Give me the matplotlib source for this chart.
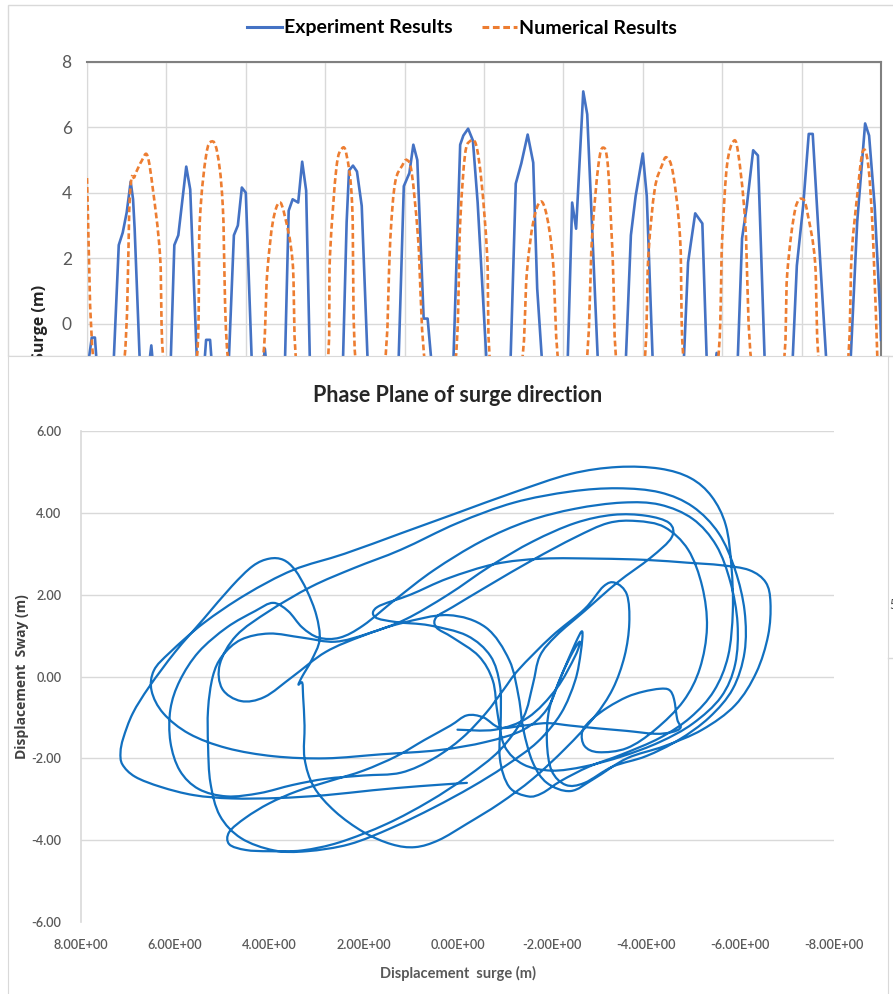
import matplotlib
matplotlib.use('Agg')
import matplotlib.pyplot as plt
from matplotlib.patches import Rectangle, PathPatch
from matplotlib.path import Path
from matplotlib.lines import Line2D
import numpy as np

# ---------------- top chart: surge time series ----------------
t_exp = [0.0, 0.6, 1.0, 1.3, 3.3, 4.0, 4.5, 5.0, 5.5, 5.8, 6.0, 6.7, 7.7, 8.1, 8.4,
         10.5, 11.0, 11.5, 12.5, 13.0, 13.9, 14.7, 15.0, 15.5, 15.8,
         17.8, 18.5, 19.0, 19.5, 20.0, 20.8, 22.1, 22.4, 22.7,
         24.9, 25.4, 25.9, 26.6, 27.1, 27.6, 28.1,
         32.2, 32.7, 33.0, 33.5, 34.0, 34.6, 35.4,
         39.2, 39.9, 40.6, 41.1, 41.6, 42.4, 42.9, 43.5,
         46.1, 47.0, 47.4, 48.0, 48.6, 49.2, 50.4,
         53.3, 54.0, 54.7, 55.5, 56.2, 56.7, 57.4,
         60.5, 61.1, 61.6, 62.5, 63.0, 64.4,
         67.8, 68.5, 69.1, 70.0, 70.5, 71.3,
         75.1, 75.7, 76.6, 77.5, 78.1, 79.0, 79.3, 79.6,
         81.9, 82.5, 83.1, 83.9, 84.5, 85.4,
         88.8, 89.4, 90.2, 90.9, 91.4, 92.3, 93.2,
         96.1, 97.0, 98.0, 98.5, 99.2, 99.9, 100.0]
surge_exp = [-1.5, -0.43, -0.43, -1.5, -1.5, 2.4, 2.78, 3.4, 4.34, 3.8, 2.9, -1.5, -1.5, -0.67, -1.5,
             -1.5, 2.4, 2.7, 4.8, 4.1, -1.5, -1.5, -0.5, -0.5, -1.5,
             -1.5, 2.7, 3.0, 4.16, 4.0, -1.5, -1.5, -0.77, -1.5,
             -1.5, 3.45, 3.8, 3.7, 4.95, 4.07, -1.5,
             -1.5, 3.1, 4.68, 4.83, 4.65, 3.6, -1.5,
             -1.5, 4.2, 4.6, 5.47, 5.0, 0.15, 0.15, -1.5,
             -1.5, 5.47, 5.75, 5.96, 5.6, 3.7, -1.5,
             -1.5, 4.28, 4.9, 5.78, 4.92, 1.07, -1.5,
             -1.5, 3.7, 2.9, 7.1, 6.4, -1.5,
             -1.5, 2.7, 3.9, 5.2, 3.9, -1.5,
             -1.5, 1.87, 3.37, 3.06, -1.5, -1.5, -0.9, -1.5,
             -1.5, 2.6, 3.6, 5.3, 5.14, -1.5,
             -1.5, 1.77, 3.6, 5.8, 5.8, 2.08, -1.5,
             -1.5, 3.1, 6.12, 5.75, 3.6, 0.3, -0.5]

t_num = [0.0, 1.0, 4.5, 5.4, 6.0, 6.9, 7.6, 8.3, 9.2, 9.9,
         13.6, 14.2, 15.0, 15.7, 16.4, 17.1, 18.0,
         21.8, 22.7, 23.4, 24.2, 24.9, 25.9, 26.6,
         30.1, 30.6, 31.4, 32.1, 32.7, 33.4, 34.0,
         37.3, 38.2, 38.8, 39.7, 40.3, 40.9, 41.7, 42.8,
         46.2, 47.0, 47.6, 48.2, 49.0, 49.7, 50.4, 51.0,
         54.5, 55.4, 56.2, 57.1, 57.9, 58.7, 59.6,
         62.7, 63.6, 64.4, 65.0, 65.6, 66.2, 66.9,
         70.0, 70.7, 71.5, 72.4, 73.0, 73.8, 74.7, 75.4,
         79.2, 80.0, 80.6, 81.4, 82.0, 82.9, 83.9,
         87.5, 88.2, 89.2, 90.2, 90.8, 91.7, 92.4,
         95.6, 96.3, 97.0, 97.7, 98.4, 99.0, 99.6]
surge_num = [4.45, -1.5, -1.5, 3.9, 4.5, 4.98, 5.14, 4.1, 2.08, -1.5,
             -1.5, 3.1, 5.14, 5.57, 5.23, 3.6, -1.5,
             -1.5, 1.56, 3.1, 3.7, 3.3, 1.87, -1.5,
             -1.5, 2.08, 4.74, 5.35, 5.14, 3.6, -1.5,
             -1.5, 2.6, 4.3, 4.83, 5.0, 4.6, 2.6, -1.5,
             -1.5, 3.1, 5.14, 5.57, 5.47, 4.3, 2.08, -1.5,
             -1.5, 1.56, 3.1, 3.73, 3.3, 1.87, -1.5,
             -1.5, 2.6, 4.83, 5.38, 4.83, 2.08, -1.5,
             -1.5, 2.08, 4.1, 4.83, 5.08, 4.6, 2.6, -1.5,
             -1.5, 2.6, 4.83, 5.57, 5.23, 3.1, -1.5,
             -1.5, 1.56, 3.5, 3.8, 3.3, 1.87, -1.5,
             -1.5, 2.08, 3.9, 5.26, 4.83, 2.6, -1.5]

surge_ticks = [-8, -6, -4, -2, 0, 2, 4, 6, 8]

# ---------------- bottom chart: phase plane (surge, sway) ----------------
seg1 = [(-0.2, -2.6), (0.8, -2.68), (1.8, -2.78), (2.8, -2.9), (3.8, -2.97), (4.8, -2.98), (5.6, -2.9),
        (6.3, -2.7), (6.85, -2.45), (7.12, -2.15), (7.16, -1.85), (7.1, -1.5), (6.9, -0.9), (6.55, -0.25),
        (6.0, 0.6), (5.4, 1.4), (4.8, 2.2), (4.35, 2.7), (4.0, 2.88), (3.7, 2.85), (3.45, 2.6), (3.2, 2.1),
        (3.0, 1.5), (2.93, 0.9), (3.1, 0.4), (3.3, 0.0), (3.38, -0.2), (3.3, -0.15), (3.28, -0.5),
        (3.25, -1.2), (3.25, -2.0), (3.05, -2.7), (2.6, -3.3), (2.0, -3.8), (1.4, -4.1), (0.9, -4.17),
        (0.4, -4.0), (-0.2, -3.6), (-0.9, -3.1), (-1.6, -2.5), (-2.3, -1.75), (-2.9, -1.0), (-3.3, -0.3),
        (-3.55, 0.5), (-3.65, 1.3), (-3.6, 2.0), (-3.35, 2.29), (-3.1, 2.2), (-2.7, 1.65), (-2.0, 0.98),
        (-1.3, 0.17), (-0.98, -0.32)]
seg2 = [(-0.98, -0.32), (-0.6, -0.9), (-0.1, -1.5), (0.5, -2.0), (1.2, -2.35), (2.0, -2.42), (2.8, -2.5),
        (3.5, -2.65), (4.2, -2.85), (4.9, -2.93), (5.5, -2.75), (5.9, -2.3), (6.1, -1.6), (6.1, -0.8),
        (5.9, -0.1), (5.5, 0.6), (4.9, 1.2), (4.3, 1.6), (3.92, 1.8), (3.6, 1.6), (3.3, 1.2), (2.95, 0.95),
        (2.5, 0.95), (2.0, 1.25), (1.3, 1.9), (0.5, 2.6), (-0.5, 3.3), (-1.5, 3.8), (-2.5, 4.1),
        (-3.5, 4.25), (-4.3, 4.2), (-5.0, 3.85), (-5.5, 3.2), (-5.8, 2.3), (-5.95, 1.3), (-5.9, 0.3),
        (-5.6, -0.5), (-5.0, -1.15), (-4.3, -1.6), (-3.5, -1.95), (-2.7, -2.2), (-2.0, -2.3),
        (-1.4, -2.15), (-1.0, -1.7), (-0.85, -0.9), (-0.75, -0.1), (-0.45, 0.5), (0.1, 0.95), (0.45, 1.2),
        (0.45, 1.45)]
seg3 = [(0.45, 1.45), (0.1, 1.7), (-0.7, 2.25), (-1.6, 2.85), (-2.5, 3.4), (-3.2, 3.75), (-3.8, 3.8),
        (-4.4, 3.65), (-4.9, 3.1), (-5.2, 2.2), (-5.3, 1.2), (-5.15, 0.2), (-4.8, -0.6), (-4.2, -1.3),
        (-3.6, -1.75), (-3.0, -1.85), (-2.7, -1.7), (-2.65, -1.35), (-2.85, -1.05), (-3.2, -0.75),
        (-3.6, -0.5), (-3.95, -0.37), (-4.3, -0.3), (-4.5, -0.33), (-4.6, -0.55), (-4.67, -1.05),
        (-4.74, -1.25), (-4.55, -1.36), (-4.2, -1.4), (-3.6, -1.33), (-3.0, -1.27), (-2.4, -1.2),
        (-1.9, -1.14), (-1.4, -1.2), (-0.9, -1.25), (-0.55, -1.0), (-0.2, -0.95), (0.15, -1.2),
        (0.7, -1.55), (1.3, -1.95), (2.0, -2.3), (2.7, -2.55), (3.4, -2.8), (4.0, -3.1), (4.5, -3.45),
        (4.85, -3.8), (4.85, -4.1), (4.5, -4.24), (4.0, -4.27), (3.3, -4.25), (2.5, -4.05), (1.5, -3.6),
        (0.6, -3.05), (-0.2, -2.45), (-0.9, -1.8), (-1.4, -1.0), (-1.6, -0.2), (-1.75, 0.5), (-2.1, 1.0)]
seg4 = [(-2.1, 1.0), (-2.7, 1.6), (-3.4, 2.3), (-4.1, 2.9), (-4.55, 3.4), (-4.5, 3.75), (-4.0, 3.93),
        (-3.3, 3.95), (-2.5, 3.75), (-1.6, 3.3), (-0.7, 2.7), (0.2, 2.0), (1.1, 1.4), (1.9, 1.05),
        (2.6, 0.85), (3.3, 0.95), (4.0, 1.05), (4.6, 0.9), (5.0, 0.5), (5.2, 0.0), (5.3, -0.8),
        (5.3, -1.7), (5.25, -2.6), (5.05, -3.4), (4.6, -3.95), (3.9, -4.25), (3.2, -4.27), (2.3, -4.1),
        (1.4, -3.7), (0.5, -3.2), (-0.3, -2.7), (-1.0, -2.2), (-1.7, -1.6), (-2.2, -0.9), (-2.5, -0.1),
        (-2.62, 0.6), (-2.65, 1.1), (-2.5, 0.8), (-2.2, 0.0), (-1.9, -0.8)]
seg5 = [(-1.9, -0.8), (-1.4, -1.3), (-0.6, -1.6), (0.4, -1.8), (1.6, -1.9), (2.8, -2.0), (3.9, -1.95),
        (4.9, -1.75), (5.7, -1.4), (6.25, -0.9), (6.5, -0.35), (6.45, 0.15), (6.1, 0.6), (5.4, 1.3),
        (4.5, 2.0), (3.5, 2.6), (2.4, 3.0), (1.2, 3.5), (0.0, 4.0), (-1.2, 4.5), (-2.4, 4.95),
        (-3.4, 5.12), (-4.3, 5.08), (-4.95, 4.85), (-5.4, 4.4), (-5.7, 3.7), (-5.82, 2.7), (-5.85, 1.6),
        (-5.75, 0.5), (-5.45, -0.35), (-4.95, -1.0), (-4.3, -1.5), (-3.5, -1.9), (-2.8, -2.2),
        (-2.2, -2.55), (-1.8, -2.85), (-1.5, -2.93), (-1.1, -2.7), (-0.9, -2.0), (-0.92, -1.0),
        (-0.9, -0.2), (-0.7, 0.5), (-0.2, 1.0), (0.6, 1.25), (1.3, 1.33), (1.75, 1.45), (1.7, 1.7)]
seg6 = [(1.7, 1.7), (1.0, 2.0), (0.2, 2.4), (-0.8, 2.75), (-1.8, 2.88), (-3.0, 2.88),
        (-4.0, 2.85), (-4.9, 2.78), (-5.6, 2.72), (-6.2, 2.6), (-6.55, 2.3), (-6.65, 1.8), (-6.6, 1.0),
        (-6.35, 0.1), (-5.9, -0.7), (-5.2, -1.3), (-4.4, -1.7), (-3.6, -2.0), (-2.9, -2.5), (-2.4, -2.8),
        (-1.9, -2.6), (-1.6, -2.1), (-1.4, -1.3), (-1.3, -0.5), (-1.1, 0.4), (-0.6, 1.2), (0.2, 1.5),
        (1.2, 1.3), (2.0, 1.0), (2.8, 0.6), (3.5, 0.0), (4.1, -0.5), (4.6, -0.6), (5.0, -0.3),
        (5.05, 0.3), (4.7, 1.0), (4.0, 1.6), (3.1, 2.2), (2.2, 2.65), (1.2, 3.1)]
seg7 = [(1.2, 3.1), (0.0, 3.75), (-1.2, 4.25), (-2.4, 4.52), (-3.4, 4.6), (-4.3, 4.5), (-5.0, 4.15),
        (-5.55, 3.5), (-5.9, 2.6), (-6.1, 1.6), (-6.1, 0.6), (-5.85, -0.3), (-5.35, -1.0), (-4.7, -1.55),
        (-4.0, -1.95), (-3.3, -2.2), (-2.7, -2.6), (-2.3, -2.65), (-2.0, -2.3), (-1.9, -1.6),
        (-1.95, -0.8), (-2.2, 0.0), (-2.45, 0.6), (-2.6, 0.85), (-2.5, 0.5), (-2.1, -0.3), (-1.5, -1.0),
        (-0.8, -1.3), (0.0, -1.3)]
phase_segments = [seg1, seg2, seg3, seg4, seg5, seg6, seg7]

sway_ticks = [-6, -4, -2, 0, 2, 4, 6]
surge_phase_ticks = [-8, -6, -4, -2, 0, 2, 4, 6, 8]


def smooth_path(xs, ys):
    # Excel-style "smoothed line": cubic Bezier through every point (Catmull-Rom handles)
    p = np.column_stack([xs, ys]).astype(float)
    ext = np.vstack([p[0], p, p[-1]])
    verts = [p[0]]
    codes = [Path.MOVETO]
    for i in range(1, len(p)):
        a, b, c, d = ext[i - 1], ext[i], ext[i + 1], ext[i + 2]
        verts += [b + (c - a) / 6, c - (d - b) / 6, c]
        codes += [Path.CURVE4] * 3
    return Path(verts, codes)


# ---------------- layout (pixel based) ----------------
W, H = 893, 994
fig = plt.figure(figsize=(W / 100, H / 100), dpi=100)


def fx(px):
    return px / W


def fy(py):
    return 1 - py / H


body = ['Lato', 'DejaVu Sans']
axis_title = ['Open Sans', 'DejaVu Sans']
grey_txt = '#595959'
grid_c = '#D9D9D9'

# frame of the top panel
fig.add_artist(Rectangle((fx(8), fy(356)), 1.0, fy(5) - fy(356), transform=fig.transFigure,
                         fill=False, edgecolor=grid_c, lw=1, zorder=0))

ax1 = fig.add_axes([fx(87), fy(585), fx(881) - fx(87), fy(62) - fy(585)], zorder=1)
ax1.plot(t_exp, surge_exp, color='#4472C4', lw=1.9, zorder=3)
ax1.add_patch(PathPatch(smooth_path(t_num, surge_num), fill=False, edgecolor='#ED7D31', lw=1.9,
                        ls=(0, (2.2, 1.2)), zorder=3))
ax1.set_xlim(0, 100)
ax1.set_ylim(-8, 8)
ax1.set_xticks(np.arange(0, 101, 10))
ax1.set_xticklabels([])
ax1.set_yticks(surge_ticks)
ax1.set_yticklabels([str(v) if v >= 0 else '' for v in surge_ticks], family=body, fontsize=12.5,
                    color=grey_txt)
ax1.tick_params(length=0, pad=11)
ax1.grid(True, color=grid_c, lw=1)
ax1.set_axisbelow(True)
for s in ['top', 'right']:
    ax1.spines[s].set_color('#808080')
    ax1.spines[s].set_linewidth(1.5)
ax1.spines['left'].set_color(grid_c)
ax1.spines['bottom'].set_visible(False)

fig.text(fx(40), fy(323), 'Surge (m)', rotation=90, ha='center', va='center', fontsize=11.5,
         fontweight='bold', family=axis_title, color='#262626', zorder=2)

handles = [Line2D([], [], color='#4472C4', lw=2.2),
           Line2D([], [], color='#ED7D31', lw=2.2, ls=(0, (2.2, 1.2)))]
fig.legend(handles, ['Experiment Results', 'Numerical Results'], loc='center',
           bbox_to_anchor=(fx(462), fy(28)), ncol=2, frameon=False, handlelength=1.8,
           handletextpad=0.1, columnspacing=1.5,
           prop={'family': body, 'weight': 'bold', 'size': 14})

# white cover panel for the phase plane chart
axc = fig.add_axes([fx(8), 0, fx(888) - fx(8), fy(356)], zorder=5)
axc.set_xticks([])
axc.set_yticks([])
for s in axc.spines.values():
    s.set_color(grid_c)
axc.spines['bottom'].set_visible(False)

ax2 = fig.add_axes([fx(81), fy(922), fx(834) - fx(81), fy(431) - fy(922)], zorder=6)
ax2.patch.set_alpha(0)
traj = list(phase_segments[0])
for seg in phase_segments[1:]:
    traj += seg[1:]
sx, sy = zip(*traj)
ax2.add_patch(PathPatch(smooth_path(sx, sy), fill=False, edgecolor='#1170C0', lw=1.6,
                        joinstyle='round', capstyle='round'))
ax2.set_xlim(8, -8)
ax2.set_ylim(-6, 6)
ax2.set_xticks(surge_phase_ticks)
ax2.set_xticklabels(['{:.2E}'.format(v) for v in surge_phase_ticks], family=body, fontsize=9.2,
                    color=grey_txt, fontweight='semibold')
ax2.set_yticks(sway_ticks)
ax2.set_yticklabels(['{:.2f}'.format(v) for v in sway_ticks], family=body, fontsize=9.2,
                    color=grey_txt, fontweight='semibold')
ax2.tick_params(length=0)
ax2.tick_params(axis='x', pad=12)
ax2.tick_params(axis='y', pad=14)
ax2.grid(True, axis='y', color=grid_c, lw=1)
ax2.set_axisbelow(True)
ax2.get_ygridlines()[0].set_visible(False)
for s in ['top', 'right', 'bottom']:
    ax2.spines[s].set_visible(False)
ax2.spines['left'].set_color(grid_c)
ax2.spines['left'].set_linewidth(1.2)

fig.text(fx(458), fy(396), 'Phase Plane of surge direction', ha='center', va='center',
         fontsize=15.5, fontweight='bold', family=body, color='#262626', zorder=7)
fig.text(fx(458), fy(973), 'Displacement  surge (m)', ha='center', va='center',
         fontsize=10.5, fontweight='bold', family=body, color='#595959', zorder=7)
fig.text(fx(22), fy(677), 'Displacement  Sway (m)', rotation=90, ha='center', va='center',
         fontsize=10, fontweight='bold', family=axis_title, color='#404040', zorder=7)

# edge of a third panel peeking in at the right
fig.text(fx(889), fy(605), '5', ha='left', va='center', fontsize=9, family=body,
         color='#404040', zorder=7)
fig.add_artist(Line2D([fx(888), 1.0], [fy(658), fy(658)], transform=fig.transFigure,
                      color=grid_c, lw=1, zorder=7))

fig.savefig('out.png', dpi=100)
